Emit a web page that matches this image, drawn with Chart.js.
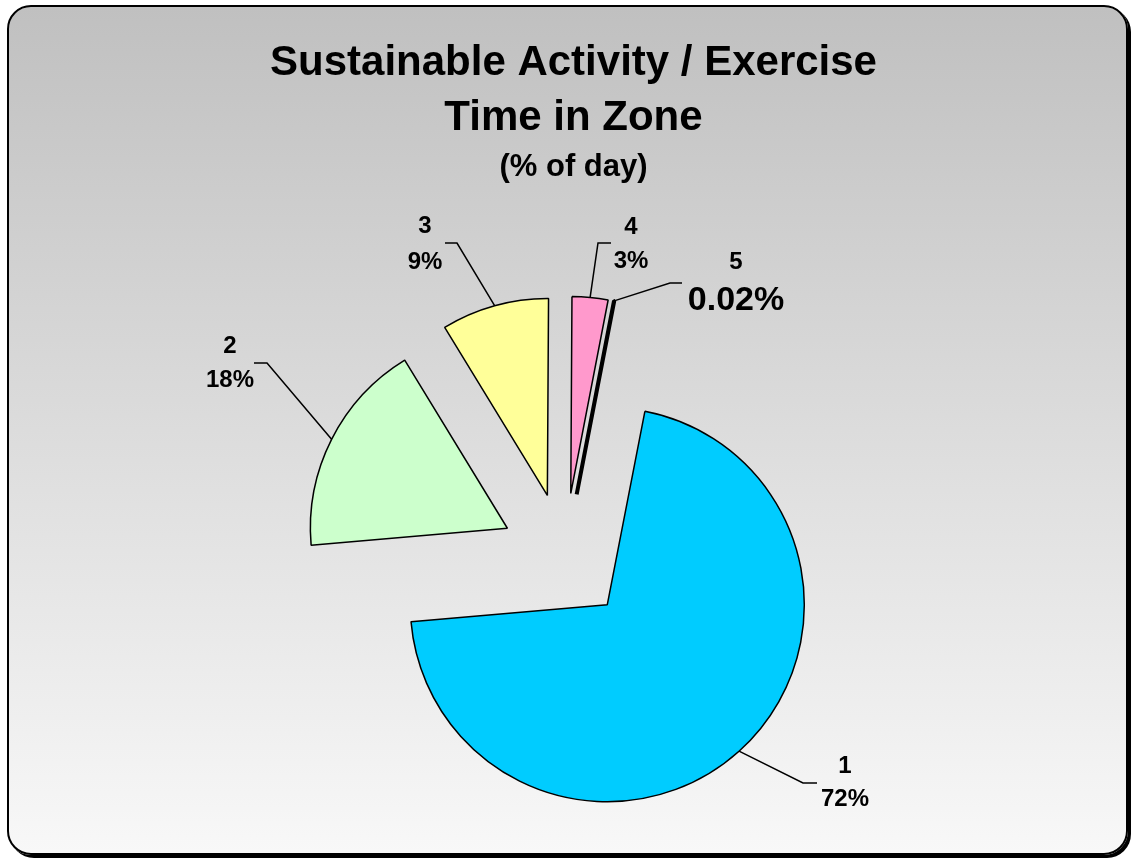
<!DOCTYPE html>
<html lang="en">
<head>
  <meta charset="UTF-8" />
  <title>Sustainable Activity / Exercise - Time in Zone</title>
  <script src="https://cdn.jsdelivr.net/npm/chart.js"></script>
  <style>
    html, body {
      margin: 0;
      padding: 0;
      background: #fff;
      overflow: hidden;
    }
    .page {
      position: relative;
      width: 1133px;
      height: 863px;
      overflow: hidden;
    }
    .frame {
      position: absolute;
      left: 7px;
      top: 5px;
      width: 1117px;
      height: 846px;
      border: 2px solid #000;
      border-radius: 24px;
      background: linear-gradient(to bottom, #c0c0c0 0%, #f8f8f8 100%);
      box-shadow: 3px 3px 0 #000;
    }
    #chart {
      position: absolute;
      left: 0;
      top: 0;
    }
  </style>
</head>
<body>
  <div class="page">
    <div class="frame"></div>
    <!-- canvas runs past the bottom edge so the pie centre lands low, like the original -->
    <canvas id="chart" width="1133" height="928"></canvas>
  </div>

  <script>
    // data
    const zones = ['1', '2', '3', '4', '5'];
    const shares = [72, 18, 9, 3, 0.02];

    // styles
    const sliceColors = ['#00ccff', '#ccffcc', '#ffff99', '#ff99cc', '#000000'];
    const sliceBorders = [1.5, 1.5, 1.5, 1.5, 4];
    const FONT = '"Liberation Sans", Arial, Helvetica, sans-serif';

    // where the label blocks and their leader lines sit
    const labelSpots = [
      { x: 845, y1: 766, y2: 799, elbow: [803, 783], end: [817, 783] },
      { x: 230, y1: 346, y2: 380, elbow: [267, 363], end: [254, 363] },
      { x: 425, y1: 226, y2: 262, elbow: [457, 243], end: [445, 243] },
      { x: 631, y1: 227, y2: 261, elbow: [598, 243], end: [611, 243] },
      { x: 736, y1: 262, y2: 301, elbow: [670, 283], end: [682, 283], size: 34 }
    ];

    // pull every slice out along its own bisector (Excel style explosion)
    const explodePlugin = {
      id: 'explode',
      beforeDatasetDraw(chart, args, opts) {
        const ctx = chart.ctx;
        args.meta.data.forEach(arc => {
          const mid = (arc.startAngle + arc.endAngle) / 2;
          ctx.save();
          ctx.translate(opts.shiftX + Math.cos(mid) * opts.distance, Math.sin(mid) * opts.distance);
          arc.draw(ctx, chart.chartArea);
          ctx.restore();
        });
        return false;
      }
    };

    const zoneLabelPlugin = {
      id: 'zoneLabels',
      afterDatasetsDraw(chart, args, opts) {
        const ctx = chart.ctx;
        const arcs = chart.getDatasetMeta(0).data;
        arcs.forEach((arc, i) => {
          const spot = opts.spots[i];
          const mid = (arc.startAngle + arc.endAngle) / 2;
          const reach = opts.distance + arc.outerRadius;
          const ax = arc.x + opts.shiftX + Math.cos(mid) * reach;
          const ay = arc.y + Math.sin(mid) * reach;

          ctx.save();
          ctx.strokeStyle = '#000';
          ctx.lineWidth = 1.5;
          ctx.beginPath();
          ctx.moveTo(ax, ay);
          ctx.lineTo(spot.elbow[0], spot.elbow[1]);
          ctx.lineTo(spot.end[0], spot.end[1]);
          ctx.stroke();

          ctx.fillStyle = '#000';
          ctx.textAlign = 'center';
          ctx.textBaseline = 'middle';
          ctx.font = `bold 24px ${FONT}`;
          ctx.fillText(zones[i], spot.x, spot.y1);
          ctx.font = `bold ${spot.size || 24}px ${FONT}`;
          ctx.fillText(shares[i] + '%', spot.x, spot.y2);
          ctx.restore();
        });
      }
    };

    const ctx = document.getElementById('chart').getContext('2d');
    new Chart(ctx, {
      type: 'pie',
      data: {
        labels: zones,
        datasets: [{
          data: shares,
          backgroundColor: sliceColors,
          borderColor: '#000',
          borderWidth: sliceBorders,
          hoverBorderWidth: sliceBorders
        }]
      },
      options: {
        responsive: false,
        animation: false,
        events: [],
        rotation: 11,
        radius: 197,
        layout: { padding: { left: 14, right: 0, top: 0, bottom: 0 } },
        plugins: {
          legend: { display: false },
          tooltip: { enabled: false },
          title: {
            display: true,
            text: ['Sustainable Activity / Exercise', 'Time in Zone'],
            color: '#000',
            font: { family: FONT, size: 42, weight: 'bold', lineHeight: 1.31 },
            padding: { top: 36, bottom: 0 }
          },
          subtitle: {
            display: true,
            text: '(% of day)',
            color: '#000',
            font: { family: FONT, size: 31, weight: 'bold', lineHeight: 1.2 },
            padding: { top: 3, bottom: 0 }
          },
          explode: { distance: 64, shiftX: -9 },
          zoneLabels: { distance: 64, shiftX: -9, spots: labelSpots }
        }
      },
      plugins: [explodePlugin, zoneLabelPlugin]
    });
  </script>
</body>
</html>
